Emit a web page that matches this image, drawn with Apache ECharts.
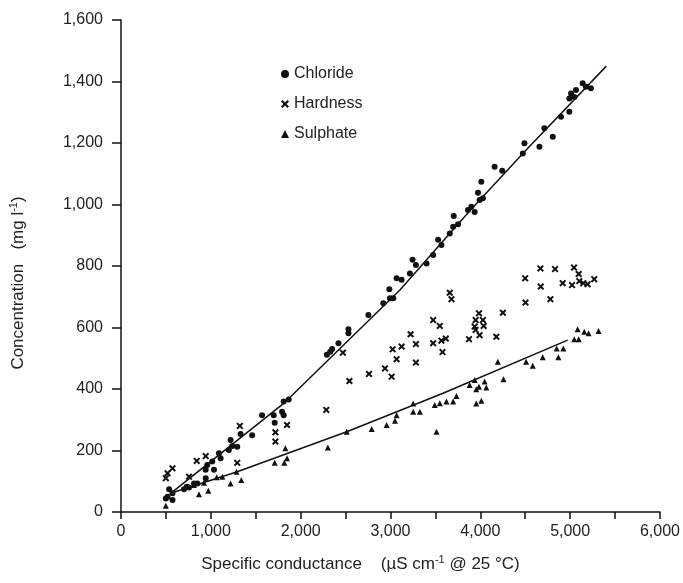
<!DOCTYPE html>
<html>
<head>
<meta charset="utf-8">
<script src="https://cdn.jsdelivr.net/npm/echarts@6/dist/echarts.min.js"></script>
<style>
  html, body { margin: 0; padding: 0; background: #fff; }
  #main { width: 683px; height: 583px; }
</style>
</head>
<body>
<div id="main"></div>
<script>
// measured points [conductance, concentration]
const chloride = [
  [499, 44], [536, 74], [573, 39], [573, 61], [518, 50], [702, 74], [732, 82], [757, 80],
  [813, 93], [850, 93], [943, 110], [943, 137], [960, 153], [1016, 164], [1035, 137],
  [1090, 191], [1109, 175], [1201, 202], [1220, 234], [1239, 215], [1294, 212],
  [1331, 254], [1460, 250], [1570, 315], [1700, 315], [1711, 290], [1793, 326],
  [1811, 315], [1811, 359], [1867, 366], [2292, 511], [2329, 521], [2350, 530],
  [2421, 549], [2532, 594], [2532, 581], [2754, 641], [2920, 679], [2994, 695],
  [2987, 724], [3031, 695], [3068, 760], [3124, 755], [3216, 776], [3246, 820],
  [3283, 803], [3401, 808], [3475, 836], [3530, 885], [3567, 868], [3660, 906],
  [3697, 928], [3704, 963], [3752, 936], [3863, 982], [3900, 993], [3937, 976],
  [3992, 1015], [3974, 1038], [4029, 1020], [4011, 1074], [4159, 1123], [4244, 1110],
  [4473, 1166], [4491, 1199], [4658, 1188], [4713, 1248], [4806, 1220], [4898, 1285],
  [4991, 1302], [4991, 1345], [5010, 1361], [5047, 1350], [5065, 1372], [5139, 1394],
  [5176, 1383], [5231, 1378]
];

const hardness = [
  [499, 110], [518, 126], [573, 142], [757, 115], [843, 166], [943, 182], [1294, 160],
  [1323, 280], [1719, 259], [1719, 229], [1848, 283], [2285, 332], [2470, 518],
  [2543, 426], [2761, 449], [2939, 467], [3013, 440], [3024, 529], [3068, 497],
  [3124, 538], [3224, 578], [3283, 546], [3283, 486], [3475, 624], [3549, 605],
  [3475, 549], [3567, 557], [3616, 564], [3579, 520], [3660, 713], [3679, 692],
  [3874, 562], [3992, 575], [3937, 603], [3948, 624], [3985, 646], [4029, 624],
  [4037, 605], [3948, 592], [4178, 570], [4251, 648], [4499, 760], [4503, 681],
  [4669, 792], [4673, 733], [4780, 692], [4832, 790], [4917, 744], [5021, 738],
  [5043, 795], [5095, 774], [5102, 751], [5146, 744], [5194, 741], [5268, 757]
];

const sulphate = [
  [499, 20], [813, 88], [868, 58], [924, 95], [972, 69], [1065, 113], [1128, 115],
  [1220, 93], [1286, 131], [1339, 104], [1711, 160], [1818, 160], [1830, 207],
  [1848, 175], [2303, 210], [2513, 261], [2791, 270], [2957, 283], [3050, 297],
  [3068, 315], [3253, 326], [3327, 326], [3253, 353], [3493, 348], [3512, 261],
  [3549, 354], [3623, 359], [3697, 359], [3734, 377], [3881, 413], [3937, 429],
  [3955, 399], [3985, 407], [4048, 424], [4067, 405], [3955, 353], [4011, 362],
  [4195, 489], [4258, 432], [4510, 489], [4584, 476], [4695, 503], [4850, 532],
  [4869, 503], [4924, 532], [5046, 562], [5083, 594], [5095, 562], [5157, 586],
  [5205, 581], [5316, 589]
];

// fitted lines
const chlorideFit = [[560, 62], [1811, 353], [3105, 722], [3881, 979], [4510, 1177], [5403, 1450]];
const sulphateFit = [[560, 62], [1294, 131], [2513, 261], [3105, 330], [3585, 386], [4972, 559]];

const crossPath = 'path://M0,2L2,0L5,3L8,0L10,2L7,5L10,8L8,10L5,7L2,10L0,8L3,5Z';
const font = 'Liberation Sans, Arial, sans-serif';
const ink = '#111';

let chart = echarts.init(document.getElementById('main'));

let option = {
  animation: false,
  backgroundColor: '#fff',
  grid: { left: 119, right: 22, top: 20, bottom: 71 },
  legend: {
    data: ['Chloride', 'Hardness', 'Sulphate'],
    orient: 'vertical',
    left: 276,
    top: 61,
    itemWidth: 8,
    itemHeight: 8,
    itemGap: 14,
    textStyle: { fontFamily: font, fontSize: 16, color: '#222' }
  },
  xAxis: {
    type: 'value',
    min: 0,
    max: 6000,
    interval: 1000,
    splitLine: { show: false },
    axisLine: { onZero: false, lineStyle: { color: ink, width: 1.5 } },
    axisTick: { length: 7, lineStyle: { color: ink, width: 1.5 } },
    minorTick: { show: true, splitNumber: 2, length: 7, lineStyle: { color: ink, width: 1.5 } },
    axisLabel: {
      margin: 12,
      fontFamily: font,
      fontSize: 16,
      color: '#222',
      formatter: v => v.toLocaleString('en-US')
    },
    name: 'Specific conductance    (µS cm{sup|-1} @ 25 °C)',
    nameLocation: 'middle',
    nameGap: 42,
    nameTextStyle: {
      fontFamily: font, fontSize: 17, color: '#222',
      padding: [0, 60, 0, 0],
      rich: { sup: { fontFamily: font, fontSize: 11, color: '#222', verticalAlign: 'top', padding: [0, 0, 10, 0] } }
    }
  },
  yAxis: {
    type: 'value',
    min: 0,
    max: 1600,
    interval: 200,
    splitLine: { show: false },
    axisLine: { lineStyle: { color: ink, width: 1.5 } },
    axisTick: { length: 9, lineStyle: { color: ink, width: 1.5 } },
    axisLabel: {
      margin: 18,
      fontFamily: font,
      fontSize: 16,
      color: '#222',
      formatter: v => v.toLocaleString('en-US')
    },
    name: 'Concentration   (mg l{sup|-1})',
    nameLocation: 'middle',
    nameGap: 92,
    nameTextStyle: {
      fontFamily: font, fontSize: 17, color: '#222',
      padding: [0, 34, 0, 0],
      rich: { sup: { fontFamily: font, fontSize: 11, color: '#222', verticalAlign: 'top', padding: [0, 0, 10, 0] } }
    }
  },
  series: [
    {
      name: 'Chloride',
      type: 'scatter',
      symbol: 'circle',
      symbolSize: 6,
      itemStyle: { color: ink, opacity: 1 },
      data: chloride
    },
    {
      name: 'Hardness',
      type: 'scatter',
      symbol: crossPath,
      symbolSize: 7,
      itemStyle: { color: ink, opacity: 1 },
      data: hardness
    },
    {
      name: 'Sulphate',
      type: 'scatter',
      symbol: 'triangle',
      symbolSize: 6,
      itemStyle: { color: ink, opacity: 1 },
      data: sulphate
    },
    {
      name: 'chlorideFit',
      type: 'line',
      symbol: 'none',
      silent: true,
      lineStyle: { color: ink, width: 1.5 },
      data: chlorideFit
    },
    {
      name: 'sulphateFit',
      type: 'line',
      symbol: 'none',
      silent: true,
      lineStyle: { color: ink, width: 1.5 },
      data: sulphateFit
    }
  ]
};

chart.setOption(option);
</script>
</body>
</html>
